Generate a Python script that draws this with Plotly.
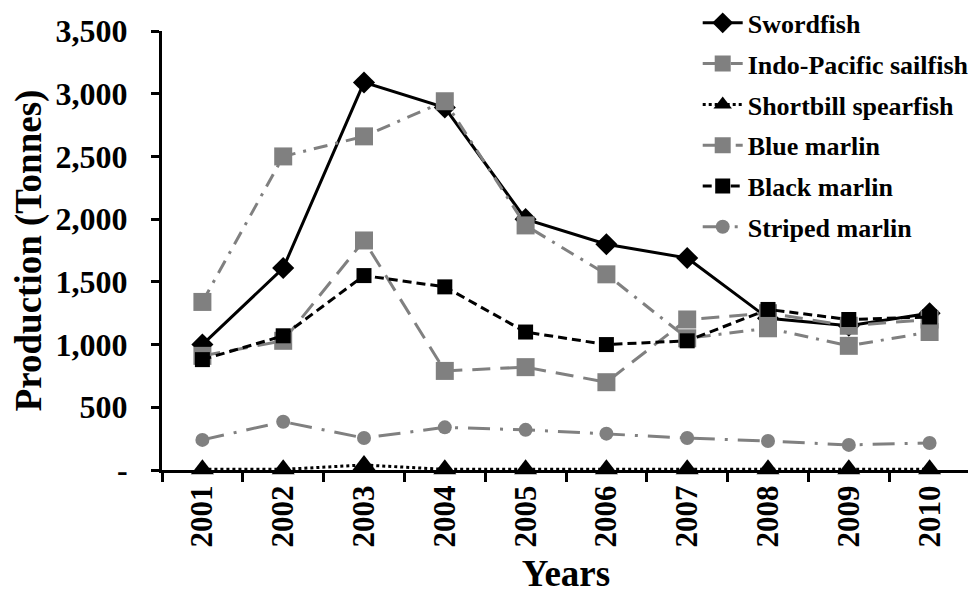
import plotly.graph_objects as go

years = ["2001", "2002", "2003", "2004", "2005", "2006", "2007", "2008", "2009", "2010"]
swordfish = [1000, 1610, 3090, 2890, 2000, 1800, 1690, 1210, 1150, 1250]
indo_pacific_sailfish = [910, 1030, 1830, 790, 820, 700, 1200, 1250, 1150, 1200]
shortbill_spearfish = [5, 5, 40, 5, 5, 5, 5, 5, 5, 5]
blue_marlin = [1340, 2500, 2660, 2940, 1950, 1560, 1050, 1130, 990, 1100]
black_marlin = [880, 1070, 1550, 1460, 1100, 1000, 1030, 1280, 1200, 1220]
striped_marlin = [240, 385, 255, 340, 320, 290, 255, 231, 200, 215]

y_tickvals = [0, 500, 1000, 1500, 2000, 2500, 3000, 3500]
y_ticktext = ["-", "500", "1,000", "1,500", "2,000", "2,500", "3,000", "3,500"]

GRAY = "#808080"
FONT = "Liberation Serif, Times New Roman, serif"

series = [
    ("Swordfish", swordfish, "black", "solid", "diamond", 17),
    ("Indo-Pacific sailfish", indo_pacific_sailfish, GRAY, "18px,10px", "square", 18),
    ("Shortbill spearfish", shortbill_spearfish, "black", "3px,3px", "triangle-up", 20),
    ("Blue marlin", blue_marlin, GRAY, "14px,8px,3px,8px", "square", 18),
    ("Black marlin", black_marlin, "black", "9px,5px", "square", 15),
    ("Striped marlin", striped_marlin, GRAY, "22px,10px,3px,10px", "circle", 14),
]

fig = go.Figure()
for i, (name, vals, color, dash, sym, size) in enumerate(series):
    fig.add_trace(go.Scatter(
        x=years, y=vals, name=name, mode="lines+markers",
        line=dict(color=color, width=3, dash=dash),
        marker=dict(symbol=sym, size=size, color=color),
        legendgroup=f"g{i}", cliponaxis=False,
    ))

fig.update_layout(
    width=976, height=599,
    margin=dict(l=154, r=14, t=23, b=137, autoexpand=False),
    paper_bgcolor="white", plot_bgcolor="white",
    font=dict(family=FONT, size=22, color="black", weight="bold"),
    showlegend=True,
    legend=dict(
        x=0.663, y=1.072, xanchor="left", yanchor="top",
        font=dict(family=FONT, size=26, color="black", weight="bold"),
        bgcolor="rgba(255,255,255,0)",
        tracegroupgap=4,
        itemwidth=40,
    ),
    xaxis=dict(
        type="category", range=[-0.5, 9.5],
        showline=True, linecolor="black", linewidth=3, layer="below traces",
        ticks="outside", tickson="boundaries", ticklen=9, tickwidth=3, tickcolor="black",
        tickangle=-90, tickfont=dict(family=FONT, size=31, weight="bold"),
        showgrid=False, zeroline=False,
        title=dict(text="Years", font=dict(family=FONT, size=37, weight="bold"), standoff=14),
    ),
    yaxis=dict(
        range=[0, 3500], tickvals=y_tickvals, ticktext=y_ticktext,
        showline=True, linecolor="black", linewidth=3, layer="below traces",
        ticks="outside", ticklen=8, tickwidth=3, tickcolor="black",
        tickfont=dict(family=FONT, size=32, weight="bold"),
        ticklabelstandoff=17,
        showgrid=False, zeroline=False,
        title=dict(text="Production (Tonnes)", font=dict(family=FONT, size=37, weight="bold"), standoff=10),
    ),
)

fig.write_html("out.html")
